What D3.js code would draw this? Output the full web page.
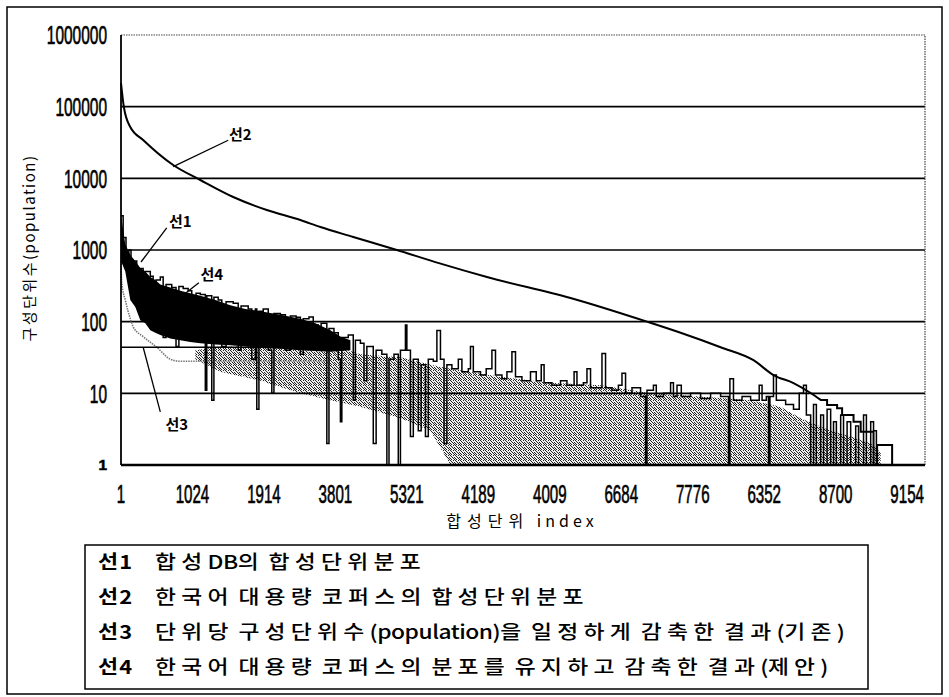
<!DOCTYPE html>
<html>
<head>
<meta charset="utf-8">
<script src="https://cdn.jsdelivr.net/npm/d3@7"></script>
<style>
body { margin: 0; background: #fff; }
svg { display: block; }
</style>
</head>
<body>
<div class="svg-wrapper"></div>
<script>
// tick labels as printed (not monotonic, so they are just categories)
var xLabels = ["1", "1024", "1914", "3801", "5321", "4189", "4009", "6684", "7776", "6352", "8700", "9154"];
var yTicks  = [1, 10, 100, 1000, 10000, 100000, 1000000];
var xTitle  = "합성단위 index";
var yTitle  = "구성단위수(population)";

var legendNames = ["선1", "선2", "선3", "선4"];
var legendTexts = [
  "합성DB의 합성단위분포",
  "한국어 대용량 코퍼스의 합성단위분포",
  "단위당 구성단위수(population)을 일정하게 감축한 결과(기존)",
  "한국어 대용량 코퍼스의 분포를 유지하고 감축한 결과(제안)"
];

// x in rank units: 100 units per printed tick step
// line 2 : corpus distribution [rank, population], smooth part then the stepped tail
var line2 = [[0, 214000], [4, 99000], [13, 52000], [31, 34300], [73, 15350], [111, 9480], [157, 5490],
  [204, 3610], [251, 2620], [279, 2090], [325, 1520], [386, 1000], [446, 650], [512, 420], [629, 214],
  [736, 100], [783, 70], [839, 44], [885, 29], [913, 18], [941, 13.9], [965, 10.1], [979, 8.1]];
var line2Tail = [[979, 8.1], [988, 8.1], [988, 6.9], [1002, 6.9], [1002, 6.2], [1009, 6.2], [1009, 5.0],
  [1025, 5.0], [1025, 4.0], [1035, 4.0], [1035, 2.9], [1053, 2.9], [1053, 1], [1058, 1], [1058, 1.9],
  [1079, 1.9], [1079, 1]];

// line 1 : synthesis DB distribution, dense grey band [rank, top, bottom]
var line1Band = [[104, 40, 30], [139, 45, 20], [195, 45, 15], [251, 50, 10], [293, 48, 8], [335, 35, 6.5],
  [391, 32, 4.5], [433, 25, 3], [461, 22, 1], [531, 17, 1], [601, 14, 1], [671, 13, 1], [741, 10, 1],
  [811, 9, 1], [881, 8, 1], [923, 6.5, 1], [951, 4.5, 1], [993, 3, 1], [1021, 2.5, 1], [1049, 2, 1],
  [1063, 1.5, 1]];

// line 3 : uniform reduction (grey dotted)
var line3 = [[0, 700], [1, 350], [6, 200], [13, 110], [17, 85], [31, 62], [50, 44], [69, 30], [83, 28], [293, 28]];
var line3Cap = [[0, 44], [300, 44]];

// line 4 : proposed reduction, solid part [rank, low, high] and spikes [rank, population]
var line4Band = [[0, 700, 3000], [6, 500, 1200], [13, 200, 850], [20, 160, 700], [27, 105, 560], [34, 95, 500],
  [41, 76, 420], [48, 70, 380], [55, 65, 330], [69, 58, 300], [83, 55, 270], [97, 52, 250], [111, 50, 230],
  [132, 48, 200], [153, 47, 170], [174, 45, 150], [195, 43, 140], [223, 42, 125], [251, 40, 110],
  [272, 39, 95], [293, 38, 76], [307, 39, 62], [321, 40, 55]];

var line4 = [[0, 3000], [3, 1500], [7, 900], [11, 1000], [14, 600], [18, 700], [22, 200], [25, 550], [31, 120],
  [34, 500], [41, 430], [45, 90], [49, 380], [55, 420], [59, 60], [63, 330], [71, 300], [77, 45], [81, 310],
  [87, 290], [94, 270], [99, 60], [105, 250], [111, 240], [118, 11], [120, 230], [127, 8], [130, 220],
  [136, 200], [141, 45], [147, 190], [157, 180], [164, 40], [168, 165], [178, 150], [183, 30], [188, 150],
  [190, 6], [193, 140], [199, 150], [206, 40], [211, 10], [214, 130], [223, 125], [230, 40], [237, 120],
  [245, 115], [251, 35], [255, 110], [263, 116], [269, 90], [276, 40], [280, 95], [288, 2], [291, 80],
  [298, 70], [304, 30], [307, 4], [309, 60], [318, 65], [325, 8], [328, 55],
  [335, 50], [340, 15], [344, 45], [353, 2], [357, 40], [365, 35], [372, 1], [375, 30], [382, 35], [388, 1],
  [391, 40], [398, 90], [400, 40], [405, 2.5], [409, 30], [416, 3], [420, 25], [426, 2.5], [430, 30],
  [437, 28], [442, 75], [447, 30], [452, 2], [456, 25], [463, 22], [472, 30], [477, 20], [486, 22], [489, 45],
  [493, 20], [503, 18], [511, 22], [519, 40], [524, 18], [533, 16], [540, 20], [547, 38], [552, 17],
  [561, 15], [573, 20], [581, 15], [588, 25], [592, 14], [603, 13], [615, 15], [624, 13], [634, 20],
  [638, 13], [647, 14], [652, 22], [657, 12], [665, 12], [673, 36], [678, 12], [687, 11], [696, 13],
  [701, 19], [706, 10], [715, 12], [727, 9], [734, 1], [736, 11], [745, 13], [749, 9], [759, 10], [769, 14],
  [773, 9], [778, 13], [784, 9], [797, 10], [811, 8.5], [825, 10], [839, 9], [850, 1], [852, 16], [857, 8],
  [869, 9], [881, 8], [893, 13], [897, 8], [903, 9], [906, 1], [908, 9], [913, 18], [917, 8], [930, 7],
  [941, 6], [949, 10], [955, 13], [959, 5], [965, 1], [969, 7], [973, 1], [979, 5], [983, 1], [988, 6],
  [993, 1], [997, 4], [1001, 1], [1007, 5], [1011, 1], [1016, 4], [1021, 1], [1028, 3.5], [1032, 1],
  [1039, 5], [1043, 1], [1049, 4], [1053, 3], [1057, 1]];

// callouts: label point, leader start, leader end (data units)
var notes = [
  { name: "선2", at: [167, 40000], from: [150, 34000], to: [73, 14600] },
  { name: "선1", at: [83, 2450], from: [64, 2030], to: [28, 680] },
  { name: "선4", at: [127, 447], from: [109, 348], to: [87, 235] },
  { name: "선3", at: [78, 3.6], from: [55, 5.5], to: [31, 44] }
];

var W = 949, H = 697,
    margin = { top: 35, right: 24, bottom: 232, left: 121 },
    plotW = W - margin.left - margin.right,
    plotH = H - margin.top - margin.bottom;

var svg = d3.select(".svg-wrapper").append("svg")
  .attr("width", W)
  .attr("height", H)
  .style("background", "#fff");

var KR = "'Noto Sans CJK KR', 'Noto Sans', sans-serif";
var NUM = "'Liberation Sans Narrow', 'Liberation Sans', 'DejaVu Sans Condensed', sans-serif";

// halftone for the grey band
var pat = svg.append("defs").append("pattern")
  .attr("id", "stipple")
  .attr("width", 5).attr("height", 5)
  .attr("patternUnits", "userSpaceOnUse");
pat.append("rect").attr("width", 5).attr("height", 5).attr("fill", "#eeeeee");
[[0, 0], [3, 0], [1, 1], [4, 2], [2, 2], [0, 3], [3, 3], [1, 4], [4, 4]].forEach(function(p) {
  pat.append("rect").attr("x", p[0]).attr("y", p[1]).attr("width", 1).attr("height", 1).attr("fill", "#222");
});

// outer frame
svg.append("rect")
  .attr("x", 7).attr("y", 7)
  .attr("width", W - 14).attr("height", H - 10)
  .attr("fill", "none").attr("stroke", "#000").attr("stroke-width", 1.5);

var xScale = d3.scaleLinear().domain([0, 1125]).range([margin.left, margin.left + plotW]);
var yScale = d3.scaleLog().domain([1, 1e6]).range([margin.top + plotH, margin.top]);
var xPoint = d3.scalePoint().domain(xLabels).range([xScale(0), xScale(1100)]);

var line = d3.line()
  .x(function(d) { return xScale(d[0]); })
  .y(function(d) { return yScale(d[1]); });
var smooth = d3.line()
  .curve(d3.curveMonotoneX)
  .x(function(d) { return xScale(d[0]); })
  .y(function(d) { return yScale(d[1]); });
var stepLine = d3.line()
  .curve(d3.curveStepAfter)
  .x(function(d) { return xScale(d[0]); })
  .y(function(d) { return yScale(d[1]); });
var band = d3.area()
  .x(function(d) { return xScale(d[0]); })
  .y0(function(d) { return yScale(d[1]); })
  .y1(function(d) { return yScale(d[2]); });

var g = svg.append("g");

// line 1 (grey band)
g.append("path")
  .attr("d", band(line1Band.map(function(d) { return [d[0], d[2], d[1]]; })))
  .attr("fill", "url(#stipple)");

// grid
g.selectAll(".grid")
  .data(yTicks.filter(function(v) { return v > 1 && v < 1e6; }))
  .enter().append("line")
  .attr("class", "grid")
  .attr("x1", xScale(0)).attr("x2", xScale(1125))
  .attr("y1", function(d) { return yScale(d); })
  .attr("y2", function(d) { return yScale(d); })
  .attr("stroke", "#000").attr("stroke-width", 1.6);

// top and right edges dotted
g.append("path")
  .attr("d", line([[0, 1e6], [1125, 1e6], [1125, 1]]))
  .attr("fill", "none").attr("stroke", "#444").attr("stroke-width", 1.2)
  .attr("stroke-dasharray", "1.5,1");

// line 3
g.append("path")
  .attr("d", smooth(line3))
  .attr("fill", "none").attr("stroke", "#777").attr("stroke-width", 1.6)
  .attr("stroke-dasharray", "1.5,1");
g.append("path")
  .attr("d", line(line3Cap))
  .attr("fill", "none").attr("stroke", "#000").attr("stroke-width", 1.4);

// line 4
g.append("path")
  .attr("d", band(line4Band))
  .attr("fill", "#000");
g.append("path")
  .attr("d", stepLine(line4))
  .attr("fill", "none").attr("stroke", "#000").attr("stroke-width", 1.5);

// line 2
g.append("path")
  .attr("d", smooth(line2) + line(line2Tail).replace("M", "L"))
  .attr("fill", "none").attr("stroke", "#000").attr("stroke-width", 2);

// axes lines
g.append("line")
  .attr("x1", xScale(0)).attr("x2", xScale(0))
  .attr("y1", yScale(1e6)).attr("y2", yScale(1))
  .attr("stroke", "#000").attr("stroke-width", 1.8);
g.append("line")
  .attr("x1", xScale(0)).attr("x2", xScale(1125))
  .attr("y1", yScale(1)).attr("y2", yScale(1))
  .attr("stroke", "#000").attr("stroke-width", 2.4);

// tick labels: tall condensed digits
g.selectAll(".ylab")
  .data(yTicks)
  .enter().append("text")
  .attr("class", "ylab")
  .attr("transform", function(d) {
    return "translate(" + (margin.left - 14) + "," + yScale(d) + ") scale(1," + (d === 1 ? 1 : 1.3) + ")";
  })
  .attr("dy", "0.36em")
  .attr("text-anchor", "end")
  .attr("textLength", function(d) { return String(d).length * 8.6; })
  .attr("lengthAdjust", "spacingAndGlyphs")
  .style("font-family", NUM)
  .style("font-size", function(d) { return d === 1 ? "14px" : "20px"; })
  .style("font-weight", function(d) { return d === 1 ? "bold" : "normal"; })
  .style("stroke", "#000").style("stroke-width", 0.5)
  .text(function(d) { return d; });

g.selectAll(".xlab")
  .data(xLabels)
  .enter().append("text")
  .attr("class", "xlab")
  .attr("transform", function(d) { return "translate(" + xPoint(d) + ",494) scale(1,1.3)"; })
  .attr("dy", "0.36em")
  .attr("text-anchor", "middle")
  .attr("textLength", function(d) { return d.length * 8.4; })
  .attr("lengthAdjust", "spacingAndGlyphs")
  .style("font-family", NUM)
  .style("font-size", "20px")
  .style("stroke", "#000").style("stroke-width", 0.5)
  .text(function(d) { return d; });

function mixed(sel, str, krSp, latSp) {
  str.match(/[\uAC00-\uD7A3]+|[^\uAC00-\uD7A3]+/g).forEach(function(p) {
    sel.append("tspan")
      .attr("letter-spacing", /[\uAC00-\uD7A3]/.test(p) ? krSp : latSp)
      .text(p);
  });
}

// axis titles
var xt = svg.append("text")
  .attr("x", 522).attr("y", 521).attr("dy", "0.35em")
  .attr("text-anchor", "middle")
  .style("font-family", KR).style("font-size", "16px");
mixed(xt, xTitle, 6, 4);

var yt = svg.append("text")
  .attr("transform", "translate(30,248) rotate(-90)")
  .attr("dy", "0.35em")
  .attr("text-anchor", "middle")
  .style("font-family", KR).style("font-size", "15px");
mixed(yt, yTitle, 2.5, 1.5);

// callouts
var note = g.selectAll(".note").data(notes).enter().append("g").attr("class", "note");
note.append("line")
  .attr("x1", function(d) { return xScale(d.from[0]); })
  .attr("y1", function(d) { return yScale(d.from[1]); })
  .attr("x2", function(d) { return xScale(d.to[0]); })
  .attr("y2", function(d) { return yScale(d.to[1]); })
  .attr("stroke", "#000").attr("stroke-width", 1.3);
note.append("text")
  .attr("x", function(d) { return xScale(d.at[0]); })
  .attr("y", function(d) { return yScale(d.at[1]); })
  .attr("dy", "0.35em")
  .attr("text-anchor", "middle")
  .style("font-family", KR).style("font-weight", "bold").style("font-size", "15px")
  .style("paint-order", "stroke").style("stroke", "#fff").style("stroke-width", 2)
  .text(function(d) { return d.name; });

// legend box, text widened like the printed Gulim face
var legendTop = 545, legendRow = 35;
svg.append("rect")
  .attr("x", 85).attr("y", legendTop)
  .attr("width", 783).attr("height", 144)
  .attr("fill", "#fff").attr("stroke", "#000").attr("stroke-width", 1.5);

legendTexts.forEach(function(t, i) {
  var y = legendTop + 17 + i * legendRow;
  svg.append("text")
    .attr("transform", "translate(98," + y + ") scale(1.15,1)")
    .attr("dy", "0.36em")
    .style("font-family", KR).style("font-weight", "bold").style("font-size", "19px")
    .attr("letter-spacing", 1)
    .text(legendNames[i]);
  var tx = svg.append("text")
    .attr("transform", "translate(155," + y + ") scale(1.2,1)")
    .attr("dy", "0.36em")
    .style("font-family", KR).style("font-weight", 500).style("font-size", "19px");
  mixed(tx, t, 4.4, -0.4);
});
</script>
</body>
</html>
